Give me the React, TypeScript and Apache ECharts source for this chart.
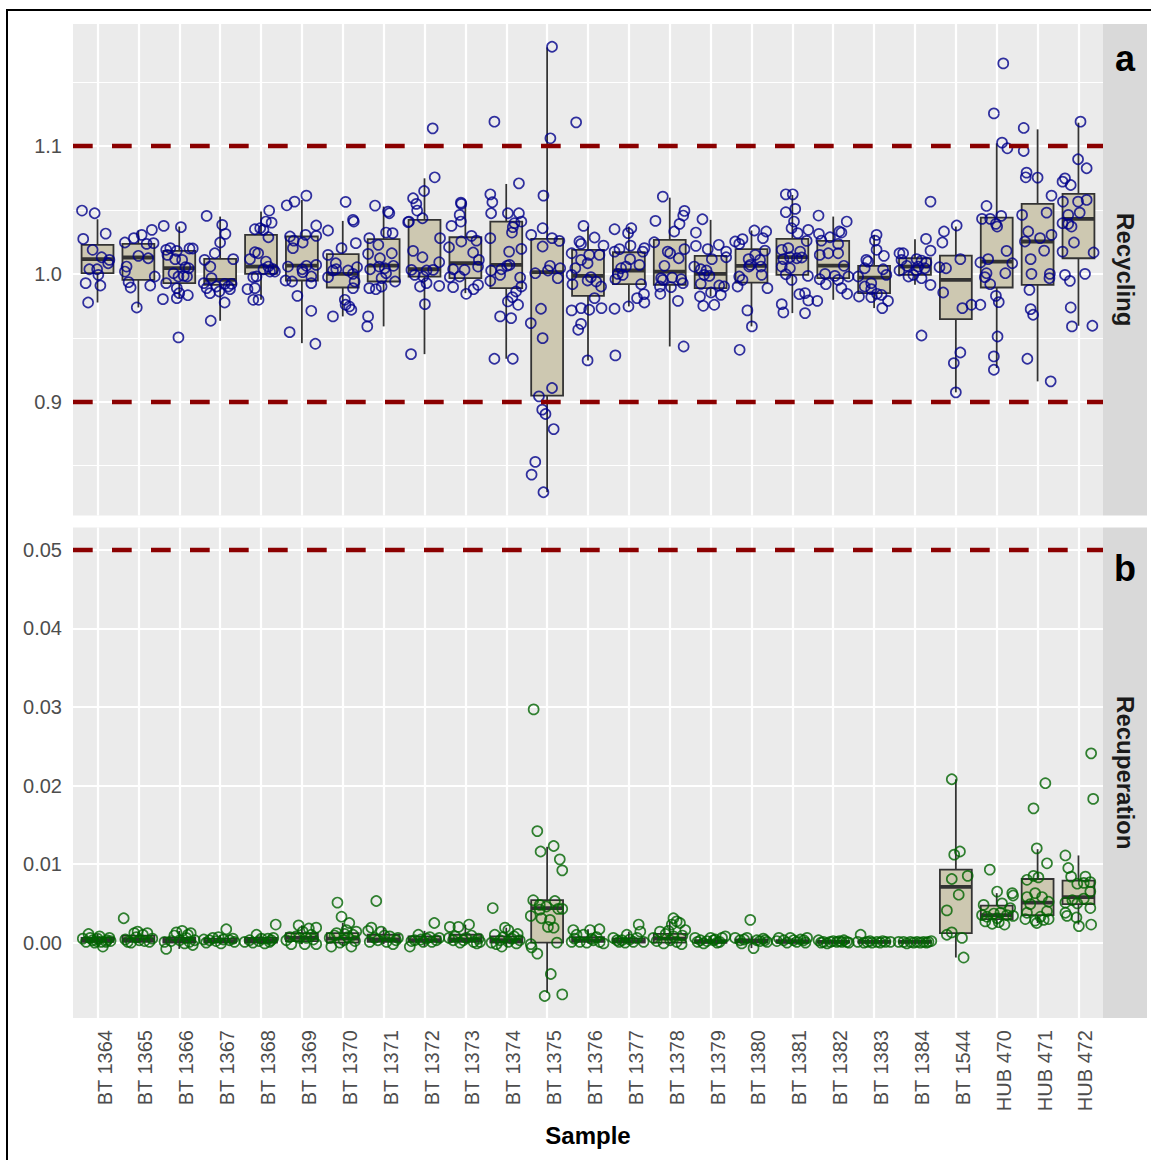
import React, { useEffect, useRef } from "react";
import * as echarts from "echarts";

const FONT = "'Liberation Sans', Arial, Helvetica, sans-serif";

const samples = [
  "BT 1364", "BT 1365", "BT 1366", "BT 1367", "BT 1368", "BT 1369", "BT 1370",
  "BT 1371", "BT 1372", "BT 1373", "BT 1374", "BT 1375", "BT 1376", "BT 1377",
  "BT 1378", "BT 1379", "BT 1380", "BT 1381", "BT 1382", "BT 1383", "BT 1384",
  "BT 1544", "HUB 470", "HUB 471", "HUB 472",
];

// [lower whisker, Q1, median, Q3, upper whisker] per sample
const recyclingBoxes = [
  [0.9776, 1.0005, 1.0115, 1.0227, 1.0427],
  [0.9737, 0.9953, 1.0128, 1.0234, 1.0339],
  [0.981, 0.9927, 1.0044, 1.018, 1.037],
  [0.9633, 0.9914, 0.9953, 1.0117, 1.0448],
  [0.9797, 1.0, 1.0057, 1.0305, 1.0487],
  [0.9458, 0.9948, 1.0065, 1.0292, 1.0578],
  [0.9667, 0.9893, 1.0, 1.0154, 1.0414],
  [0.9589, 0.994, 1.0065, 1.0271, 1.0526],
  [0.9372, 0.9979, 1.0036, 1.0422, 1.0747],
  [0.9849, 0.9966, 1.0083, 1.0286, 1.0565],
  [0.9336, 0.9888, 1.007, 1.0409, 1.0703],
  [0.8292, 0.9047, 1.0013, 1.0273, 1.1771],
  [0.9323, 0.9828, 0.9984, 1.0188, 1.037],
  [0.9745, 0.9919, 1.0026, 1.0169, 1.037],
  [0.9432, 0.9914, 1.0018, 1.0266, 1.0596],
  [0.9823, 0.9888, 1.0, 1.0141, 1.0422],
  [0.9589, 0.9932, 1.0063, 1.0193, 1.0339],
  [0.9693, 0.9992, 1.013, 1.0273, 1.0617],
  [0.9797, 0.9966, 1.0065, 1.0258, 1.0448],
  [0.9732, 0.9849, 0.9971, 1.0063, 1.0305],
  [0.9914, 0.9992, 1.0057, 1.0122, 1.0271],
  [0.9073, 0.9646, 0.9953, 1.0143, 1.037],
  [0.9263, 0.9893, 1.0096, 1.044, 1.1021],
  [0.9159, 0.9914, 1.0253, 1.0547, 1.113],
  [0.9594, 1.0122, 1.043, 1.0625, 1.1182],
];

const recuperationBoxes = [
  [-0.0003, 0.0001, 0.0003, 0.0006, 0.0011],
  [-0.0001, 0.0001, 0.0004, 0.0009, 0.0014],
  [-0.0008, 0.0, 0.0003, 0.0006, 0.0015],
  [-0.0002, 0.0, 0.0002, 0.0005, 0.001],
  [-0.0002, 0.0, 0.0003, 0.0006, 0.0012],
  [-0.0002, 0.0002, 0.0006, 0.0012, 0.0022],
  [-0.0005, 0.0, 0.0005, 0.0012, 0.0025],
  [-0.0002, 0.0001, 0.0004, 0.001, 0.0019],
  [-0.0005, 0.0001, 0.0003, 0.0008, 0.0015],
  [-0.0001, 0.0001, 0.0004, 0.001, 0.0023],
  [-0.0005, 0.0, 0.0003, 0.0008, 0.0019],
  [-0.0064, 0.0, 0.0044, 0.0054, 0.0122],
  [-0.0001, 0.0001, 0.0003, 0.0007, 0.0017],
  [-0.0001, 0.0, 0.0002, 0.0005, 0.0014],
  [-0.0002, 0.0, 0.0005, 0.0011, 0.0027],
  [-0.0001, 0.0, 0.0001, 0.0003, 0.0008],
  [-0.0007, 0.0, 0.0002, 0.0004, 0.0008],
  [-0.0001, 0.0, 0.0001, 0.0003, 0.0006],
  [-0.0001, 0.0, 0.0001, 0.0002, 0.0004],
  [-0.0001, 0.0, 0.0001, 0.0002, 0.0004],
  [-0.0001, 0.0, 0.0001, 0.0002, 0.0004],
  [-0.0019, 0.0012, 0.0071, 0.0093, 0.0208],
  [0.0023, 0.003, 0.0035, 0.0047, 0.0063],
  [0.0025, 0.0035, 0.0051, 0.0081, 0.0119],
  [0.0023, 0.0049, 0.0058, 0.0079, 0.0111],
];

// Individual measurements: [horizontal jitter, value] per sample
const recyclingPoints = [
  [[-0.38, 1.0495], [-0.07, 1.0474], [-0.35, 1.0273], [0.2, 1.0315], [-0.12, 1.0188], [0.1, 1.013], [0.29, 1.0109], [0.26, 1.0083], [-0.2, 1.0036], [-0.01, 1.0036], [0.02, 0.9992], [-0.29, 0.9927], [0.07, 0.9909], [-0.23, 0.9776]],
  [[-0.33, 1.0245], [-0.11, 1.0279], [0.08, 1.0305], [0.33, 1.0344], [0.2, 1.0234], [0.37, 1.024], [0.0, 1.0141], [0.24, 1.0122], [-0.29, 1.0057], [-0.33, 1.0018], [-0.24, 0.9935], [-0.19, 0.9893], [0.29, 0.9909], [0.4, 0.9979], [-0.04, 0.9737]],
  [[-0.38, 1.0375], [0.04, 1.0365], [-0.32, 1.0188], [-0.22, 1.0201], [-0.06, 1.018], [0.25, 1.0198], [0.33, 1.0198], [-0.29, 1.0148], [-0.1, 1.0115], [0.07, 1.0109], [-0.14, 1.0005], [-0.02, 0.9979], [0.15, 1.0052], [0.23, 1.0044], [0.11, 0.9984], [0.19, 0.9979], [-0.32, 0.9927], [-0.06, 0.9888], [0.0, 0.9849], [0.21, 0.9833], [-0.06, 0.981], [-0.4, 0.9802], [-0.02, 0.9503]],
  [[-0.33, 1.0453], [0.05, 1.0383], [0.13, 1.0313], [0.0, 1.0245], [-0.13, 1.0161], [-0.38, 1.0109], [-0.24, 1.0057], [0.32, 1.0115], [-0.21, 0.9966], [-0.4, 0.9927], [-0.33, 0.9888], [-0.25, 0.9849], [-0.02, 0.9862], [-0.09, 0.9901], [0.11, 0.9922], [0.2, 0.9901], [0.28, 0.9922], [0.24, 0.988], [0.11, 0.9776], [-0.23, 0.9633]],
  [[0.2, 1.0495], [0.12, 1.0409], [0.26, 1.0401], [-0.15, 1.0349], [-0.02, 1.0357], [0.06, 1.0344], [0.18, 1.0286], [-0.15, 1.0169], [-0.07, 1.0161], [-0.27, 1.0115], [0.12, 1.0096], [0.18, 1.0057], [0.06, 1.0036], [0.22, 1.0018], [0.34, 1.0018], [0.3, 1.0036], [-0.19, 0.9974], [-0.11, 0.9979], [-0.15, 0.9888], [-0.33, 0.988], [-0.19, 0.9797], [-0.06, 0.9797]],
  [[-0.37, 1.0536], [-0.18, 1.0565], [0.11, 1.0612], [0.35, 1.0378], [-0.29, 1.0292], [-0.2, 1.026], [-0.22, 1.0201], [0.02, 1.0245], [0.09, 1.0305], [0.35, 1.0297], [-0.34, 1.0057], [0.01, 1.0036], [0.11, 1.0063], [0.35, 1.007], [0.02, 1.0013], [0.23, 0.9979], [-0.4, 0.9948], [-0.24, 0.994], [0.23, 0.9927], [-0.11, 0.9828], [0.23, 0.9711], [-0.3, 0.9544], [0.33, 0.9453]],
  [[0.07, 1.0563], [0.25, 1.0422], [0.27, 1.0409], [-0.36, 1.0339], [0.32, 1.024], [-0.03, 1.0201], [-0.36, 1.0148], [-0.17, 1.0083], [-0.24, 1.0026], [-0.16, 1.0036], [0.13, 1.0026], [0.35, 1.0052], [0.25, 1.0], [-0.36, 0.9974], [0.29, 0.994], [0.25, 0.9888], [0.05, 0.9797], [0.07, 0.9758], [0.16, 0.9745], [0.21, 0.9719], [-0.24, 0.9667]],
  [[-0.21, 1.0534], [0.11, 1.0487], [0.14, 1.0474], [-0.35, 1.0279], [-0.13, 1.0227], [0.06, 1.0323], [0.22, 1.0318], [-0.38, 1.0156], [-0.09, 1.0122], [0.2, 1.0161], [-0.33, 1.0036], [-0.11, 1.0057], [0.03, 1.0044], [0.24, 1.0063], [0.06, 1.0005], [-0.05, 0.9966], [0.28, 0.994], [-0.35, 0.9888], [-0.19, 0.988], [-0.05, 0.9901], [-0.38, 0.9667], [-0.4, 0.9589]],
  [[0.2, 1.1138], [0.25, 1.0755], [-0.01, 1.0648], [-0.28, 1.0591], [-0.2, 1.0547], [-0.18, 1.0495], [-0.05, 1.0435], [-0.38, 1.0409], [-0.4, 1.0404], [0.38, 1.0279], [-0.28, 1.018], [-0.05, 1.013], [0.36, 1.0091], [-0.32, 1.0031], [0.21, 1.0031], [0.05, 1.0026], [-0.24, 0.9992], [-0.03, 0.9979], [-0.11, 0.9901], [0.05, 0.9927], [0.36, 0.9906], [0.01, 0.9763], [-0.33, 0.9372]],
  [[-0.11, 1.0557], [-0.1, 1.0547], [-0.14, 1.0461], [-0.11, 1.0409], [-0.34, 1.0375], [0.15, 1.0297], [-0.1, 1.0253], [0.27, 1.026], [-0.4, 1.0208], [0.19, 1.0167], [0.33, 1.0109], [0.31, 1.0057], [-0.3, 1.0036], [-0.02, 1.0031], [-0.38, 0.9974], [-0.14, 0.9979], [-0.3, 0.9896], [0.31, 0.9914], [0.2, 0.988], [0.02, 0.9844]],
  [[-0.29, 1.119], [0.31, 1.0708], [-0.39, 1.0622], [-0.34, 1.056], [-0.37, 1.0474], [0.04, 1.0474], [0.31, 1.0474], [0.37, 1.0409], [0.2, 1.0396], [0.16, 1.0365], [0.14, 1.0323], [-0.39, 1.0279], [0.37, 1.0195], [0.07, 1.0174], [0.08, 1.007], [0.02, 1.0063], [-0.12, 1.0036], [-0.37, 1.0026], [-0.15, 0.9992], [0.34, 0.9971], [-0.39, 0.9945], [0.37, 0.9901], [0.24, 0.9862], [0.15, 0.9818], [0.04, 0.9784], [0.29, 0.9758], [-0.15, 0.9667], [0.12, 0.9654], [-0.29, 0.9336], [0.16, 0.9336]],
  [[0.12, 1.1776], [0.08, 1.106], [-0.09, 1.0612], [-0.39, 1.0305], [-0.11, 1.0357], [-0.11, 1.0214], [0.12, 1.0279], [0.3, 1.0258], [-0.29, 1.0005], [0.02, 1.0026], [0.07, 1.0063], [0.32, 1.0044], [0.26, 0.9966], [-0.4, 0.9615], [-0.15, 0.9727], [-0.11, 0.9497], [0.12, 0.9107], [-0.2, 0.9042], [-0.12, 0.8938], [-0.04, 0.8904], [0.16, 0.8786], [-0.29, 0.8529], [-0.38, 0.843], [-0.09, 0.8292]],
  [[-0.29, 1.1185], [-0.11, 1.0375], [0.16, 1.0284], [0.38, 1.0221], [-0.21, 1.0253], [-0.17, 1.0234], [-0.4, 1.0161], [0.03, 1.0148], [0.28, 1.0148], [-0.17, 1.0109], [-0.01, 1.0083], [-0.31, 1.0044], [-0.4, 0.9992], [0.07, 0.9974], [-0.01, 0.9948], [0.2, 0.994], [0.32, 0.9901], [-0.38, 0.9919], [0.16, 0.981], [-0.4, 0.9714], [-0.17, 0.9732], [0.03, 0.9719], [0.33, 0.9732], [-0.17, 0.9609], [-0.24, 0.9563], [-0.01, 0.9323]],
  [[-0.35, 1.0349], [0.06, 1.0357], [-0.02, 1.0318], [-0.23, 1.0193], [-0.35, 1.0174], [0.04, 1.0221], [0.38, 1.0201], [0.34, 1.0174], [0.03, 1.0115], [0.26, 1.007], [-0.19, 1.0044], [-0.07, 1.0057], [-0.27, 1.0], [-0.15, 0.9992], [-0.33, 0.9958], [0.3, 0.9919], [0.2, 0.981], [0.37, 0.9841], [0.38, 0.9776], [-0.01, 0.9745], [-0.35, 0.9727], [-0.33, 0.9362]],
  [[-0.17, 1.0604], [0.36, 1.0492], [0.33, 1.0456], [-0.35, 1.0414], [0.24, 1.0391], [0.11, 1.0331], [-0.38, 1.0247], [-0.05, 1.0174], [0.01, 1.0161], [0.36, 1.0193], [0.22, 1.0122], [-0.13, 1.0063], [-0.21, 0.9966], [-0.17, 0.9953], [0.06, 0.9971], [0.28, 0.9958], [0.32, 0.9927], [-0.24, 0.9901], [0.03, 0.9896], [-0.23, 0.9844], [0.2, 0.9789], [0.34, 0.9432]],
  [[-0.2, 1.0427], [-0.36, 1.0323], [-0.36, 1.0219], [-0.07, 1.0193], [0.2, 1.0227], [0.38, 1.0174], [0.38, 1.013], [0.03, 1.0115], [-0.4, 1.0057], [-0.24, 1.0036], [-0.1, 1.0026], [-0.16, 0.9992], [-0.03, 0.9984], [-0.24, 0.9922], [0.21, 0.9909], [0.33, 0.9901], [0.01, 0.9854], [0.25, 0.9836], [-0.26, 0.9823], [-0.18, 0.975], [0.09, 0.9758]],
  [[-0.4, 1.0253], [-0.22, 1.0271], [0.07, 1.0339], [-0.3, 1.0234], [-0.07, 1.0115], [0.09, 1.0148], [-0.06, 1.0057], [-0.3, 0.9979], [-0.22, 0.9953], [-0.34, 0.9901], [-0.1, 0.9714], [0.01, 0.9589], [-0.29, 0.9406], [0.28, 1.0279], [0.36, 1.0331], [0.33, 1.0182], [0.21, 1.0109], [0.25, 0.9992], [0.39, 0.9888], [0.23, 1.0057], [-0.03, 1.007]],
  [[-0.16, 1.0622], [0.01, 1.0622], [0.07, 1.0508], [-0.16, 1.0482], [0.04, 1.0409], [-0.02, 1.0357], [0.13, 1.0318], [0.39, 1.0344], [0.35, 1.0258], [-0.26, 1.0188], [-0.1, 1.0201], [0.19, 1.0174], [-0.22, 1.0115], [-0.06, 1.013], [0.11, 1.0122], [0.23, 1.0128], [-0.26, 1.0057], [-0.06, 1.0044], [-0.16, 0.9997], [-0.02, 0.9953], [0.38, 0.9984], [0.17, 0.9841], [0.31, 0.9849], [0.39, 0.9792], [-0.26, 0.9763], [-0.22, 0.9698], [0.31, 0.9693]],
  [[-0.36, 1.0456], [0.33, 1.0409], [0.15, 1.0331], [0.2, 1.0323], [-0.35, 1.0313], [-0.08, 1.0286], [-0.29, 1.026], [0.12, 1.0234], [-0.33, 1.0148], [0.12, 1.0161], [-0.12, 1.0161], [0.26, 1.0063], [-0.2, 1.0], [-0.33, 0.9958], [-0.18, 0.9919], [0.04, 0.9984], [0.12, 0.9953], [0.37, 0.9979], [0.2, 0.9888], [0.34, 0.9844], [-0.39, 0.9789]],
  [[0.06, 1.0305], [0.02, 1.026], [0.06, 1.0188], [0.24, 1.0141], [-0.19, 1.0109], [-0.15, 1.0096], [-0.23, 1.0044], [0.22, 1.0036], [0.3, 0.9992], [-0.39, 0.9979], [-0.07, 0.9927], [-0.23, 0.9901], [-0.07, 0.988], [0.07, 0.9844], [0.18, 0.9836], [-0.37, 0.9823], [-0.07, 0.9818], [0.34, 0.9789], [0.2, 0.9732]],
  [[0.38, 1.0565], [0.27, 1.0273], [0.38, 1.0182], [-0.38, 1.0161], [-0.29, 1.0161], [-0.33, 1.0109], [0.04, 1.0115], [0.16, 1.0104], [0.28, 1.0089], [-0.2, 1.0063], [0.08, 1.0057], [0.24, 1.0044], [-0.38, 1.0026], [-0.16, 0.9979], [0.16, 0.9966], [-0.04, 0.9992], [0.04, 1.0026], [0.38, 0.9914], [0.16, 0.9518]],
  [[0.02, 1.0378], [-0.29, 1.0331], [-0.33, 1.0245], [-0.4, 1.0052], [-0.24, 1.0044], [0.11, 1.0115], [-0.31, 0.9854], [0.16, 0.9732], [0.38, 0.9758], [0.11, 0.9385], [-0.05, 0.9302], [0.0, 0.9073]],
  [[0.16, 1.1646], [-0.07, 1.1255], [0.13, 1.1026], [0.26, 1.0982], [-0.25, 1.0531], [-0.36, 1.043], [-0.16, 1.043], [0.11, 1.0453], [-0.02, 1.0391], [0.01, 1.037], [0.24, 1.018], [0.38, 1.0083], [-0.21, 1.0115], [-0.4, 1.0089], [0.21, 1.0005], [-0.25, 1.0005], [-0.29, 0.9974], [-0.16, 0.9919], [-0.4, 0.9758], [-0.02, 0.9828], [0.05, 0.9779], [0.02, 0.951], [-0.07, 0.9354], [-0.07, 0.925]],
  [[-0.34, 1.1141], [-0.34, 1.0961], [-0.27, 1.0792], [-0.29, 1.0755], [0.0, 1.0753], [0.34, 1.0612], [-0.38, 1.0461], [0.22, 1.0479], [-0.23, 1.0331], [0.06, 1.0279], [0.34, 1.0305], [-0.31, 1.0253], [0.16, 1.0182], [-0.17, 1.0115], [-0.15, 1.0], [0.3, 1.0], [0.29, 0.9966], [-0.2, 0.9875], [-0.17, 0.9724], [-0.11, 0.968], [-0.25, 0.9336], [0.32, 0.9159]],
  [[0.05, 1.119], [-0.01, 1.0896], [0.2, 1.0826], [-0.39, 1.0721], [-0.33, 1.0747], [-0.19, 1.0695], [-0.01, 1.0565], [0.2, 1.0578], [-0.38, 1.0565], [-0.25, 1.0461], [0.03, 1.0479], [-0.39, 1.0396], [-0.25, 1.0391], [-0.17, 1.037], [-0.11, 1.0245], [-0.39, 1.0174], [0.37, 1.0167], [-0.33, 0.9992], [-0.21, 0.9945], [0.16, 1.0], [-0.19, 0.9737], [-0.16, 0.9589], [0.34, 0.9594]],
];

const recuperationPoints = [
  [[-0.36, 0.0005], [-0.22, 0.0011], [-0.12, 0.0003], [0.0, 0.0005], [0.13, -0.0005], [0.21, 0.0001], [0.29, 0.0006], [0.09, 0.0001], [-0.07, 0.0], [-0.28, 0.0001], [0.23, 0.0003], [-0.18, 0.0006], [0.05, 0.0008], [0.32, 0.0002], [-0.02, 0.0002]],
  [[-0.36, 0.0031], [-0.26, 0.0001], [-0.1, 0.0012], [-0.02, 0.0014], [0.11, 0.001], [0.22, 0.0012], [0.27, 0.0001], [-0.18, 0.0], [0.02, 0.0003], [0.34, 0.0005], [-0.32, 0.0004], [0.15, 0.0002], [-0.05, 0.0007]],
  [[-0.32, -0.0008], [-0.36, 0.0001], [-0.07, 0.0013], [0.07, 0.0015], [0.17, 0.0006], [0.33, -0.0003], [0.25, 0.0001], [0.01, 0.0003], [-0.2, 0.0002], [0.13, -0.0001], [0.38, 0.0003], [-0.12, 0.0009], [0.28, 0.0012], [0.21, 0.001]],
  [[-0.4, 0.0004], [-0.26, 0.0003], [-0.1, 0.0002], [0.15, 0.0017], [0.23, 0.0003], [0.35, 0.0001], [-0.34, 0.0], [0.02, -0.0001], [-0.18, 0.0006], [0.31, 0.0005], [0.08, 0.0004], [-0.04, 0.0007]],
  [[-0.4, 0.0001], [-0.28, 0.0003], [-0.11, 0.001], [0.01, 0.0005], [0.17, 0.0005], [0.36, 0.0023], [0.21, 0.0001], [-0.2, 0.0], [0.09, -0.0001], [0.25, 0.0003], [-0.05, 0.0002], [0.3, 0.0006]],
  [[-0.38, 0.0003], [-0.26, -0.0002], [-0.08, 0.0022], [0.02, 0.0014], [0.17, 0.0018], [0.35, 0.0019], [0.11, 0.0006], [0.23, 0.001], [0.07, -0.0002], [0.35, -0.0002], [-0.06, 0.0006], [-0.14, 0.0008], [0.28, 0.0004], [-0.3, 0.0007]],
  [[-0.13, 0.0051], [-0.03, 0.0033], [0.16, 0.0025], [0.09, 0.0016], [-0.15, 0.0012], [0.25, 0.001], [-0.28, -0.0005], [0.02, 0.0003], [0.21, -0.0005], [-0.32, 0.0006], [0.33, 0.0014], [-0.07, 0.0], [0.12, 0.0007], [-0.2, 0.0009], [0.3, 0.0002], [0.05, 0.0011]],
  [[-0.18, 0.0053], [-0.3, 0.0019], [-0.38, 0.0015], [-0.06, 0.0014], [0.15, 0.0008], [0.35, 0.0006], [-0.34, 0.0001], [0.07, 0.0001], [0.23, -0.0002], [-0.14, 0.0003], [-0.22, 0.0006], [0.3, 0.0003], [0.02, 0.0009]],
  [[-0.36, -0.0005], [-0.15, 0.001], [0.24, 0.0025], [0.13, 0.0007], [0.29, 0.0003], [-0.03, 0.0001], [-0.24, 0.0003], [0.05, 0.0005], [0.36, 0.0006], [-0.32, 0.0002], [0.18, 0.0001], [-0.09, 0.0004]],
  [[-0.38, 0.002], [-0.17, 0.002], [0.09, 0.0023], [-0.4, 0.0006], [-0.25, 0.0008], [-0.05, 0.0003], [0.2, 0.0001], [0.28, -0.0001], [0.36, 0.0001], [-0.3, 0.0003], [-0.13, 0.0], [0.15, 0.0009], [0.02, 0.0006], [0.32, 0.0005]],
  [[-0.33, 0.0044], [-0.03, 0.0019], [0.05, 0.0016], [-0.28, 0.001], [-0.15, 0.0003], [0.13, 0.0005], [0.25, -0.0001], [-0.36, 0.0], [-0.11, -0.0005], [0.05, 0.0001], [-0.24, -0.0002], [0.33, 0.0003], [0.19, 0.0008], [-0.07, 0.0007], [0.28, 0.0011]],
  [[-0.33, 0.0297], [-0.24, 0.0142], [-0.16, 0.0116], [0.16, 0.0123], [0.31, 0.0106], [0.37, 0.0092], [-0.34, 0.0054], [-0.18, 0.0048], [-0.02, 0.0046], [0.19, 0.0053], [0.27, 0.0043], [0.37, 0.0043], [-0.18, 0.0042], [-0.4, 0.0034], [-0.14, 0.0031], [0.07, 0.0029], [0.02, 0.002], [0.16, 0.0019], [-0.4, -0.0002], [-0.38, -0.0006], [-0.24, -0.0014], [0.24, 0.0], [0.09, -0.004], [-0.06, -0.0068], [0.37, -0.0066]],
  [[-0.36, 0.0016], [-0.28, 0.001], [0.05, 0.0016], [0.28, 0.0017], [-0.2, 0.0001], [-0.03, 0.0], [0.13, 0.0003], [0.29, 0.0001], [0.38, -0.0001], [-0.4, 0.0001], [-0.11, 0.001], [0.21, 0.0007], [0.09, 0.0005], [-0.33, 0.0005]],
  [[-0.38, 0.0006], [-0.29, 0.0003], [-0.05, 0.001], [0.24, 0.0023], [0.28, 0.0014], [0.11, 0.0001], [-0.09, 0.0], [-0.17, 0.0003], [0.36, 0.0001], [0.2, 0.0006], [0.02, 0.0004], [-0.24, 0.0001]],
  [[-0.4, 0.0006], [-0.24, 0.0014], [-0.03, 0.0015], [0.09, 0.0031], [0.17, 0.0027], [0.05, 0.0023], [0.25, 0.0025], [0.38, 0.0016], [0.09, 0.0008], [-0.15, -0.0001], [0.17, 0.0001], [0.29, -0.0002], [0.01, 0.0003], [-0.32, 0.0002], [0.31, 0.0009], [-0.1, 0.0011]],
  [[-0.38, 0.0006], [-0.25, 0.0003], [-0.09, 0.0002], [0.07, 0.0003], [0.28, 0.0006], [0.36, 0.0008], [-0.17, -0.0001], [0.16, 0.0], [0.0, 0.0006], [-0.32, 0.0001], [0.22, 0.0001], [0.11, 0.0004]],
  [[-0.03, 0.0029], [0.05, -0.0007], [-0.4, 0.0006], [-0.28, 0.0003], [-0.11, 0.0006], [0.13, 0.0003], [0.29, 0.0005], [0.38, 0.0001], [-0.24, -0.0001], [0.21, 0.0002], [-0.18, 0.0004], [0.33, 0.0003]],
  [[-0.33, 0.0006], [-0.21, 0.0003], [-0.05, 0.0006], [0.11, 0.0001], [0.28, 0.0003], [0.36, 0.0006], [-0.13, 0.0], [0.03, 0.0003], [-0.38, 0.0002], [0.2, 0.0004], [0.32, 0.0]],
  [[-0.36, 0.0003], [-0.24, 0.0001], [-0.07, 0.0001], [0.09, 0.0001], [0.21, 0.0001], [0.33, 0.0001], [-0.15, -0.0001], [0.26, 0.0003], [0.0, 0.0002], [-0.3, 0.0], [0.15, 0.0002], [0.38, 0.0]],
  [[-0.33, 0.001], [-0.4, 0.0001], [-0.17, 0.0001], [0.07, 0.0001], [0.28, 0.0001], [0.4, 0.0001], [-0.05, 0.0], [0.15, 0.0], [-0.25, 0.0], [0.21, 0.0002], [-0.1, 0.0002]],
  [[-0.4, 0.0001], [-0.28, 0.0001], [-0.11, 0.0001], [0.05, 0.0001], [0.21, 0.0001], [0.33, 0.0001], [0.4, 0.0002], [-0.2, -0.0001], [-0.03, 0.0], [0.13, 0.0], [0.28, 0.0]],
  [[-0.1, 0.0208], [-0.04, 0.0112], [0.1, 0.0116], [0.29, 0.0085], [-0.1, 0.0081], [0.07, 0.0061], [-0.22, 0.0041], [-0.22, 0.001], [-0.1, 0.0013], [0.15, 0.0006], [0.19, -0.0019]],
  [[-0.17, 0.0093], [0.01, 0.0065], [0.38, 0.0063], [0.4, 0.006], [-0.32, 0.0048], [0.13, 0.005], [-0.36, 0.0035], [-0.24, 0.0033], [-0.07, 0.0037], [0.09, 0.0038], [0.25, 0.0035], [0.4, 0.0034], [-0.28, 0.0027], [-0.11, 0.0024], [0.05, 0.0026], [0.19, 0.0023], [0.01, 0.0031], [0.33, 0.0044]],
  [[0.19, 0.0203], [-0.1, 0.0171], [-0.02, 0.012], [0.23, 0.0101], [-0.1, 0.0085], [0.02, 0.0083], [-0.26, 0.008], [-0.06, 0.0063], [-0.26, 0.0058], [0.11, 0.0058], [0.27, 0.0052], [-0.18, 0.0049], [0.23, 0.004], [-0.26, 0.0038], [0.07, 0.0033], [-0.06, 0.0028], [0.15, 0.0029], [-0.3, 0.003], [0.27, 0.003], [-0.02, 0.0025]],
  [[0.31, 0.0241], [0.36, 0.0183], [-0.32, 0.0111], [-0.25, 0.0095], [-0.18, 0.0084], [-0.03, 0.0075], [0.13, 0.0076], [0.29, 0.0077], [0.17, 0.0084], [0.29, 0.0065], [-0.32, 0.0051], [-0.15, 0.0054], [-0.03, 0.005], [0.13, 0.0056], [0.29, 0.0044], [-0.32, 0.0038], [-0.28, 0.0034], [0.01, 0.0021], [0.31, 0.0023], [-0.05, 0.0032]],
];

const recyclingTicks = [0.9, 1.0, 1.1];
const recyclingMinor = [0.85, 0.95, 1.05, 1.15];
const recyclingLimits = [0.9, 1.1];
const recuperationTicks = [0, 0.01, 0.02, 0.03, 0.04, 0.05];
const recuperationMinor = [-0.005, 0.005, 0.015, 0.025, 0.035, 0.045];
const recuperationLimits = [0.05];

const panels = [
  {
    title: "Recycling", tag: "a", tagBaseline: 69, top: 24, height: 491.5, range: [0.811, 1.1954],
    ticks: recyclingTicks, minor: recyclingMinor, limits: recyclingLimits,
    boxes: recyclingBoxes, points: recyclingPoints, color: "#00008B", digits: 1,
  },
  {
    title: "Recuperation", tag: "b", tagBaseline: 579, top: 527.5, height: 490.5, range: [-0.0096, 0.05286],
    ticks: recuperationTicks, minor: recuperationMinor, limits: recuperationLimits,
    boxes: recuperationBoxes, points: recuperationPoints, color: "#006400", digits: 2,
  },
];

const PANEL_LEFT = 73;
const PANEL_WIDTH = 1030;
const STRIP_WIDTH = 44;
const BOX_HALF = 0.39;
const sampleIndex = samples.map((_, i) => i);

function renderBox(params: any, api: any) {
  const i = api.value(0);
  const lo = api.value(1), q1 = api.value(2), med = api.value(3), q3 = api.value(4), hi = api.value(5);
  const tl = api.coord([i - BOX_HALF, q3]);
  const br = api.coord([i + BOX_HALF, q1]);
  const top = api.coord([i, hi]);
  const bot = api.coord([i, lo]);
  const mL = api.coord([i - BOX_HALF, med]);
  const mR = api.coord([i + BOX_HALF, med]);
  const edge = { stroke: "#333333", lineWidth: 1.8 };
  return {
    type: "group",
    children: [
      { type: "line", shape: { x1: top[0], y1: top[1], x2: top[0], y2: tl[1] }, style: edge },
      { type: "line", shape: { x1: bot[0], y1: br[1], x2: bot[0], y2: bot[1] }, style: edge },
      {
        type: "rect",
        shape: { x: tl[0], y: tl[1], width: br[0] - tl[0], height: br[1] - tl[1] },
        style: { fill: "#CDC8B1", ...edge },
      },
      { type: "line", shape: { x1: mL[0], y1: mL[1], x2: mR[0], y2: mR[1] }, style: { stroke: "#333333", lineWidth: 3.8 } },
    ],
  };
}

function buildOption() {
  const series: any[] = [];
  panels.forEach((p, k) => {
    // white panel grid lines, kept beneath the boxes and points
    series.push({
      type: "line", xAxisIndex: k, yAxisIndex: k, z: 1, silent: true,
      data: [[0, p.ticks[0]]], showSymbol: false, lineStyle: { opacity: 0 },
      markLine: {
        z: 1, silent: true, symbol: ["none", "none"], label: { show: false },
        lineStyle: { color: "#FFFFFF", width: 2.2, type: "solid" },
        emphasis: { disabled: true },
        data: [
          ...sampleIndex.map((i) => ({ xAxis: i })),
          ...p.ticks.map((v) => ({ yAxis: v })),
          ...p.minor.map((v) => ({ yAxis: v, lineStyle: { color: "#FFFFFF", width: 1.1, type: "solid" } })),
        ],
      },
    });
    series.push({
      type: "custom", xAxisIndex: k, yAxisIndex: k, z: 2, silent: true,
      renderItem: renderBox,
      encode: { x: 0, y: [1, 2, 3, 4, 5] },
      data: p.boxes.map((b, i) => [i, ...b]),
    });
    series.push({
      type: "scatter", xAxisIndex: k, yAxisIndex: k, z: 3, silent: true,
      symbol: "circle", symbolSize: 10,
      itemStyle: { color: "rgba(0,0,0,0)", borderColor: p.color, borderWidth: 1.7 },
      data: p.points.flatMap((pts, i) => pts.map(([dx, v]) => [i + dx, v])),
    });
    series.push({
      type: "line", xAxisIndex: k, yAxisIndex: k, z: 4, silent: true,
      data: [[0, p.limits[0]]], showSymbol: false, lineStyle: { opacity: 0 },
      markLine: {
        z: 6, silent: true, symbol: ["none", "none"], label: { show: false },
        emphasis: { disabled: true },
        lineStyle: { color: "#8B0000", width: 4.3, type: [19.7, 19.3] },
        data: p.limits.map((v) => ({ yAxis: v })),
      },
    });
  });

  const graphic: any[] = [];
  panels.forEach((p) => {
    graphic.push({
      type: "rect", silent: true,
      shape: { x: PANEL_LEFT + PANEL_WIDTH, y: p.top, width: STRIP_WIDTH, height: p.height },
      style: { fill: "#D9D9D9" },
    });
    graphic.push({
      type: "text", silent: true,
      x: PANEL_LEFT + PANEL_WIDTH + STRIP_WIDTH / 2 + 0.5, y: p.top + p.height / 2,
      rotation: -Math.PI / 2,
      style: {
        text: p.title, fontFamily: FONT, fontWeight: "bold", fontSize: 24,
        fill: "#1A1A1A", align: "center", verticalAlign: "middle",
      },
    });
    graphic.push({
      type: "text", silent: true,
      x: PANEL_LEFT + PANEL_WIDTH + STRIP_WIDTH / 2, y: p.tagBaseline + 7.5,
      style: {
        text: p.tag, fontFamily: FONT, fontWeight: "bold", fontSize: 36,
        fill: "#000000", align: "center", verticalAlign: "bottom",
      },
    });
  });
  graphic.push({
    type: "text", silent: true, x: PANEL_LEFT + PANEL_WIDTH / 2, y: 1135,
    style: {
      text: "Sample", fontFamily: FONT, fontWeight: "bold", fontSize: 24,
      fill: "#000000", align: "center", verticalAlign: "middle",
    },
  });
  graphic.push({
    type: "polyline", silent: true,
    shape: { points: [[7, 1160], [7, 10], [1151, 10]] },
    style: { stroke: "#000000", lineWidth: 2, fill: null },
  });

  return {
    animation: false,
    backgroundColor: "#FFFFFF",
    grid: panels.map((p) => ({
      left: PANEL_LEFT, top: p.top, width: PANEL_WIDTH, height: p.height,
      show: true, backgroundColor: "#EBEBEB", borderWidth: 0,
    })),
    xAxis: panels.map((p, k) => ({
      type: "value", gridIndex: k, min: -0.6, max: 24.6,
      axisLine: { show: false },
      splitLine: { show: false },
      axisTick: k === 1
        ? { show: true, customValues: sampleIndex, length: 6, lineStyle: { color: "#333333", width: 1.5 } }
        : { show: false },
      axisLabel: k === 1
        ? {
            show: true, customValues: sampleIndex, rotate: 90, margin: 12,
            fontFamily: FONT, fontSize: 20, color: "#4D4D4D",
            verticalAlign: "top", lineHeight: 14,
            formatter: (v: number) => samples[Math.round(v)] ?? "",
          }
        : { show: false },
    })),
    yAxis: panels.map((p, k) => ({
      type: "value", gridIndex: k, min: p.range[0], max: p.range[1],
      axisLine: { show: false },
      splitLine: { show: false },
      axisTick: { show: true, customValues: p.ticks, length: 6, lineStyle: { color: "#333333", width: 1.5 } },
      axisLabel: {
        show: true, customValues: p.ticks, margin: 11,
        fontFamily: FONT, fontSize: 20, color: "#4D4D4D",
        formatter: (v: number) => Number(v).toFixed(p.digits),
      },
    })),
    series,
    graphic,
  };
}

export default function App() {
  const ref = useRef<HTMLDivElement>(null);
  useEffect(() => {
    const chart = echarts.init(ref.current!, null, { renderer: "svg" });
    chart.setOption(buildOption() as any);
    return () => chart.dispose();
  }, []);
  return (
    <div
      ref={ref}
      style={{ position: "absolute", left: 0, top: 0, width: 1151, height: 1160, background: "#FFFFFF" }}
    />
  );
}
